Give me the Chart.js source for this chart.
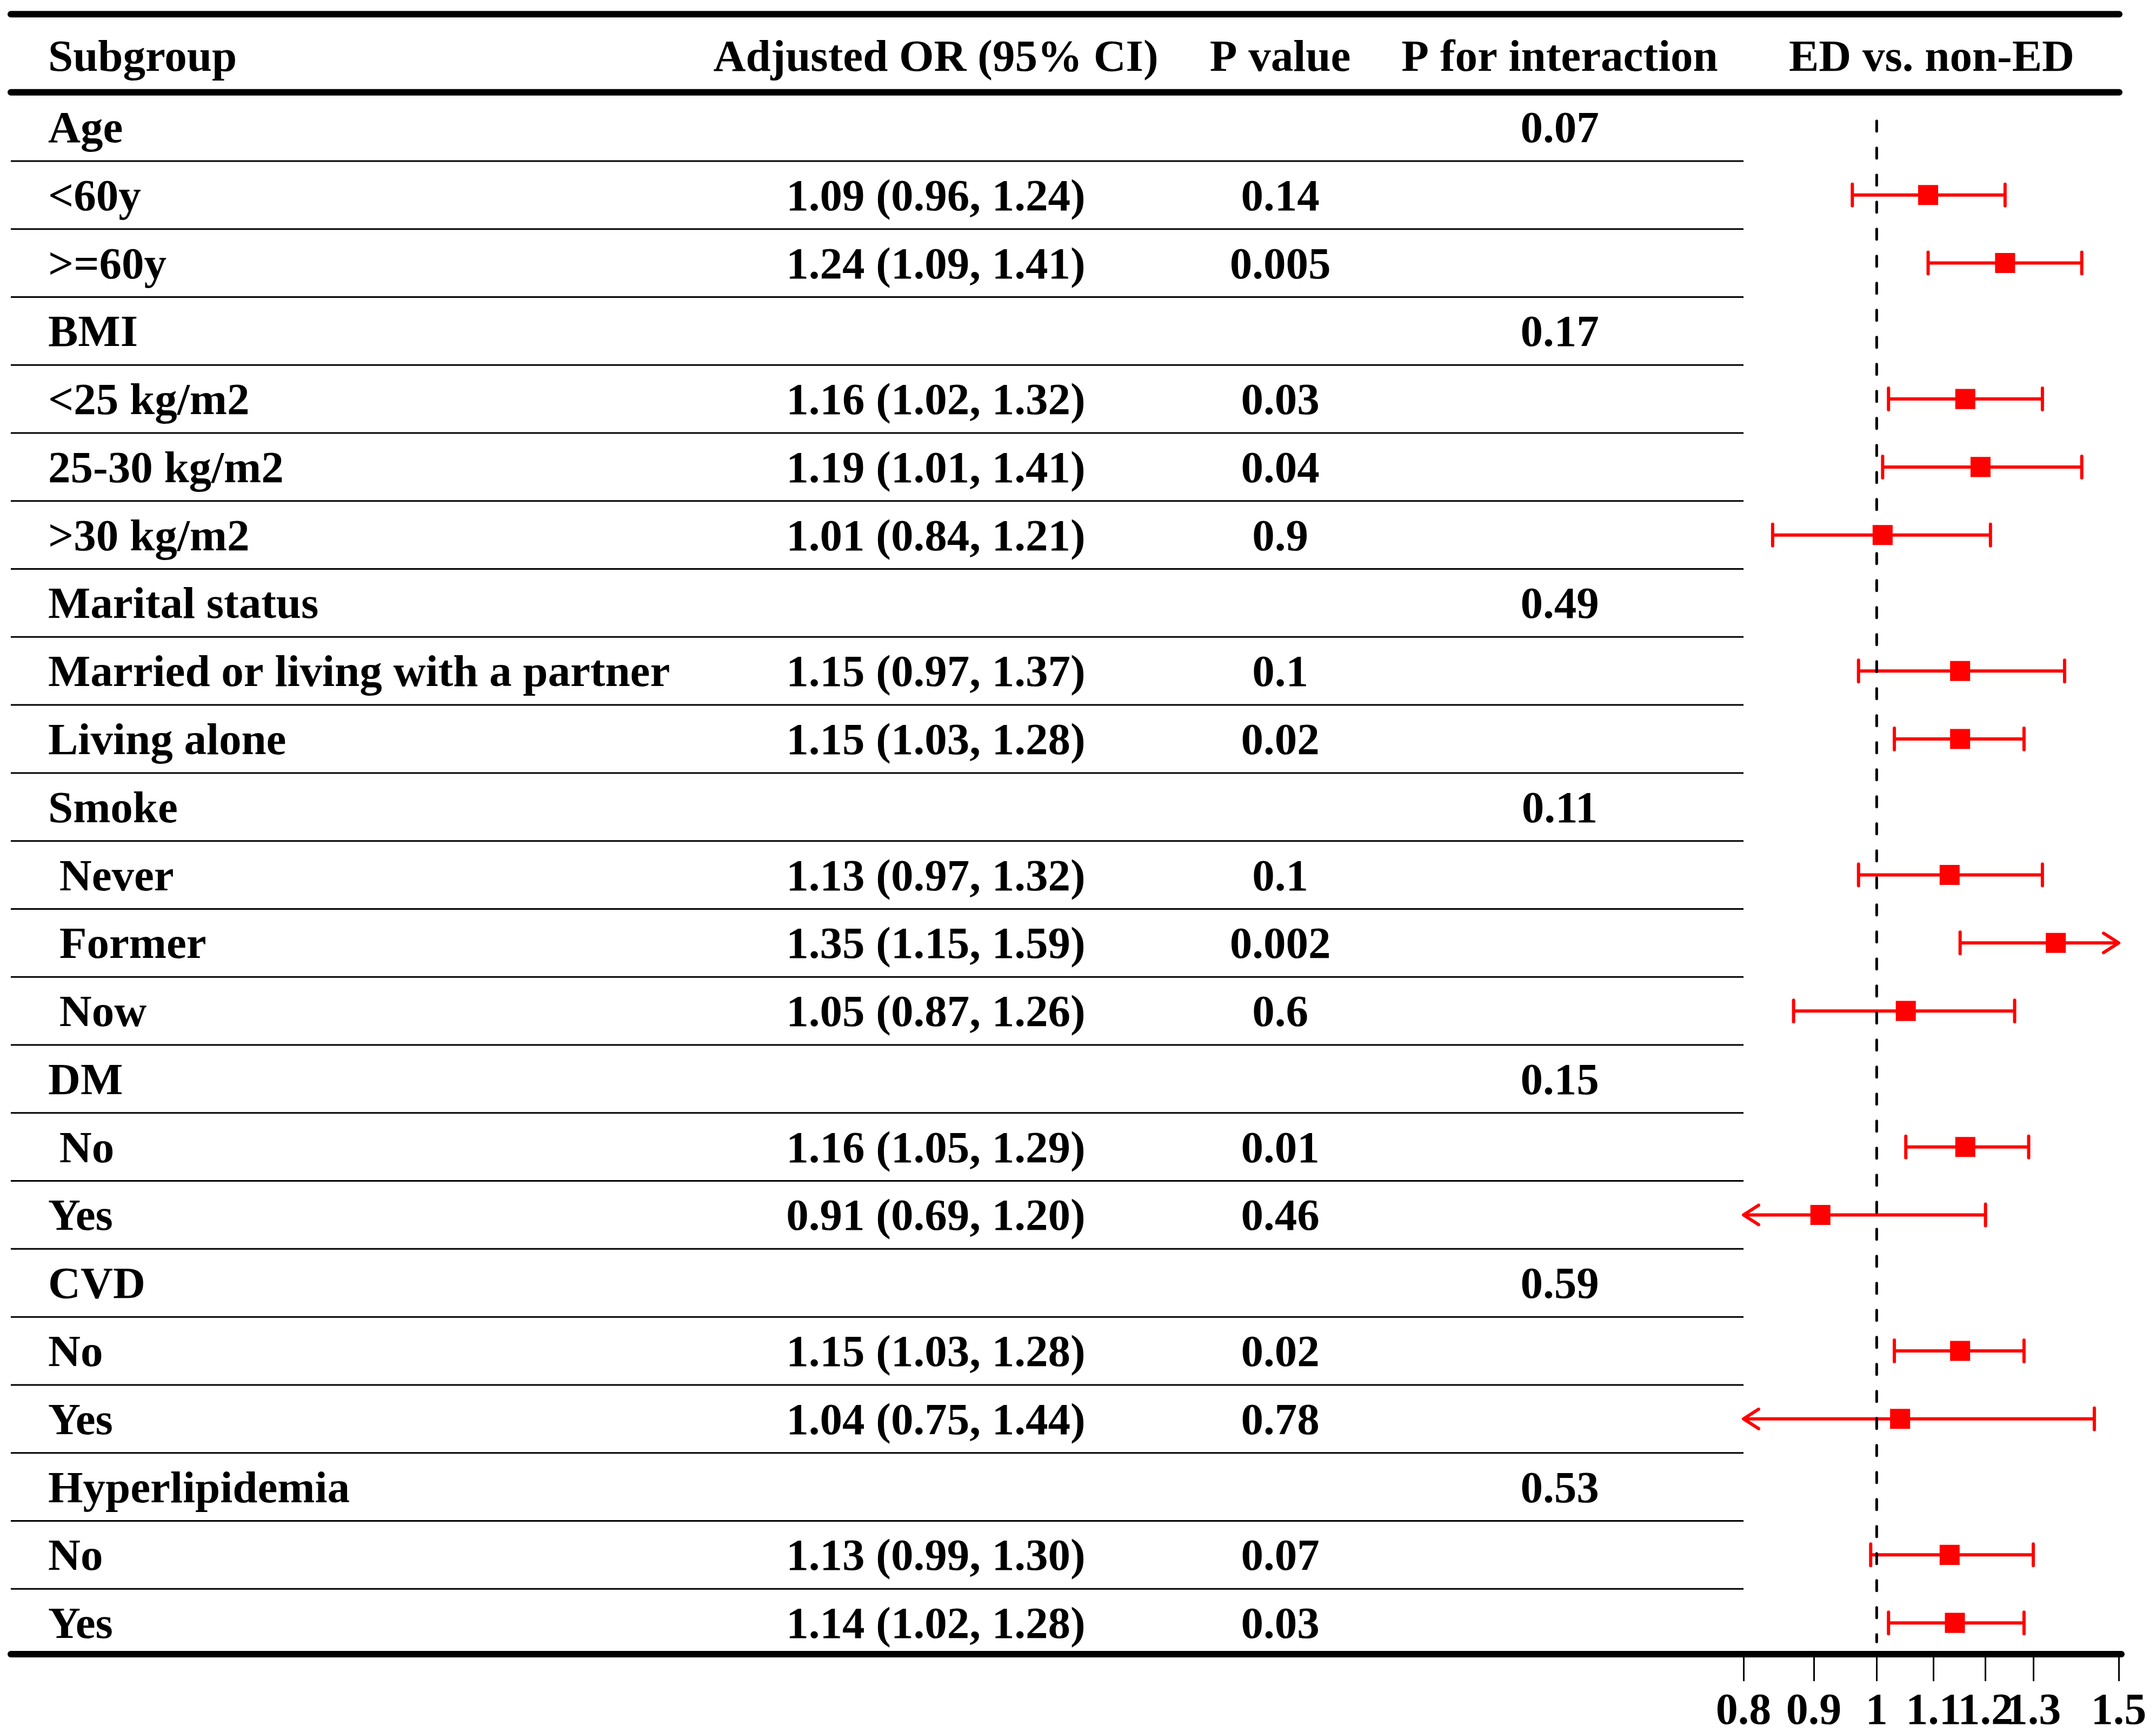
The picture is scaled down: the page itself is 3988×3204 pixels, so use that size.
<!DOCTYPE html>
<html>
<head>
<meta charset="utf-8">
<script src="https://cdn.jsdelivr.net/npm/chart.js@4.4.0/dist/chart.umd.min.js"></script>
<style>html,body{margin:0;padding:0;background:#fff}</style>
</head>
<body>
<canvas id="c" width="3988" height="3204" style="width:3988px;height:3204px;display:block"></canvas>
<script>
// ---------------- DATA ----------------
const subgroups = ["Age","<60y",">=60y","BMI","<25 kg/m2","25-30 kg/m2",">30 kg/m2","Marital status","Married or living with a partner","Living alone","Smoke"," Never"," Former"," Now","DM"," No","Yes","CVD","No","Yes","Hyperlipidemia","No","Yes"];
const orValues = [null,1.09,1.24,null,1.16,1.19,1.01,null,1.15,1.15,null,1.13,1.35,1.05,null,1.16,0.91,null,1.15,1.04,null,1.13,1.14];
const ciLow    = [null,0.96,1.09,null,1.02,1.01,0.84,null,0.97,1.03,null,0.97,1.15,0.87,null,1.05,0.69,null,1.03,0.75,null,0.99,1.02];
const ciHigh   = [null,1.24,1.41,null,1.32,1.41,1.21,null,1.37,1.28,null,1.32,1.59,1.26,null,1.29,1.20,null,1.28,1.44,null,1.30,1.28];
const pValues  = ["","0.14","0.005","","0.03","0.04","0.9","","0.1","0.02","","0.1","0.002","0.6","","0.01","0.46","","0.02","0.78","","0.07","0.03"];
const pInteraction = ["0.07","","","0.17","","","","0.49","","","0.11","","","","0.15","","","0.59","","","0.53","",""];
const headers = ["Subgroup","Adjusted OR (95% CI)","P value","P for interaction","ED vs. non-ED"];
const xTickValues = [0.8,0.9,1,1.1,1.2,1.3,1.5];
const xTickLabels = ["0.8","0.9","1","1.1","1.2","1.3","1.5"];
const xMin = 0.8, xMax = 1.5, refValue = 1;

// ---------------- STYLE ----------------
const RED = '#ff0000';
const FONT = 'bold 83px "Liberation Serif", "Times New Roman", serif';
const baselineOffset = 28;
const colX = { label: 89, or: 1731, p: 2368, pint: 2885, plot: 3573 };
const yRange = { min: -1.66, max: 22.46 };
const headerRow = -1.05, headerLine = -0.51, dashStart = -0.09, dashEnd = 22.28;
const tableLeft = 20, tableRight = 3920;

const points = [];
subgroups.forEach((s, i) => {
  if (orValues[i] !== null) points.push({ x: orValues[i], y: i, lo: ciLow[i], hi: ciHigh[i] });
});
const orText = orValues.map((v, i) => v === null ? "" :
  v.toFixed(2) + " (" + ciLow[i].toFixed(2) + ", " + ciHigh[i].toFixed(2) + ")");

function hline(ctx, x1, x2, y, w) {
  ctx.beginPath(); ctx.lineWidth = w; ctx.moveTo(x1, y); ctx.lineTo(x2, y); ctx.stroke();
}

const forestPlugin = {
  id: 'forest',
  beforeDatasetsDraw(chart) {
    const { ctx, chartArea, scales: { x, y } } = chart;
    ctx.save();
    // confidence intervals
    ctx.strokeStyle = RED;
    points.forEach(p => {
      const py = y.getPixelForValue(p.y);
      const loClip = p.lo < xMin, hiClip = p.hi > xMax;
      const x1 = x.getPixelForValue(loClip ? xMin : p.lo);
      const x2 = x.getPixelForValue(hiClip ? xMax : p.hi);
      ctx.lineCap = 'butt';
      hline(ctx, x1, x2, py, 6);
      ctx.lineCap = 'round';
      ctx.lineJoin = 'round';
      ctx.lineWidth = 6;
      [[x1, loClip, -1], [x2, hiClip, 1]].forEach(([px, clip, dir]) => {
        ctx.beginPath();
        if (clip) {
          ctx.moveTo(px - dir * 28, py - 18);
          ctx.lineTo(px, py);
          ctx.lineTo(px - dir * 28, py + 18);
        } else {
          ctx.moveTo(px, py - 20);
          ctx.lineTo(px, py + 20);
        }
        ctx.stroke();
      });
    });
    // reference line
    const rx = x.getPixelForValue(refValue);
    ctx.strokeStyle = '#000';
    ctx.lineWidth = 5;
    ctx.lineCap = 'round';
    ctx.setLineDash([19, 31]);
    ctx.beginPath();
    ctx.moveTo(rx, y.getPixelForValue(dashStart));
    ctx.lineTo(rx, y.getPixelForValue(dashEnd));
    ctx.stroke();
    ctx.restore();
  },
  afterDraw(chart) {
    const { ctx, chartArea, scales: { x, y } } = chart;
    ctx.save();
    ctx.strokeStyle = '#000';
    ctx.lineCap = 'butt';
    // thin row separators
    for (let i = 0; i < subgroups.length - 1; i++) {
      hline(ctx, tableLeft, chartArea.left, y.getPixelForValue(i + 0.5), 3);
    }
    // thick rules
    ctx.lineCap = 'round';
    hline(ctx, tableLeft, tableRight, chartArea.top, 12);
    hline(ctx, tableLeft, tableRight, y.getPixelForValue(headerLine), 12);
    hline(ctx, tableLeft, tableRight + 4, chartArea.bottom, 12);
    // text
    ctx.fillStyle = '#000';
    ctx.font = FONT;
    ctx.textBaseline = 'alphabetic';
    const hy = y.getPixelForValue(headerRow) + baselineOffset;
    ctx.textAlign = 'left';
    ctx.fillText(headers[0], colX.label, hy);
    ctx.textAlign = 'center';
    ctx.fillText(headers[1], colX.or, hy);
    ctx.fillText(headers[2], colX.p, hy);
    ctx.fillText(headers[3], colX.pint, hy);
    ctx.fillText(headers[4], colX.plot, hy);
    subgroups.forEach((s, i) => {
      const py = y.getPixelForValue(i) + baselineOffset;
      ctx.textAlign = 'left';
      ctx.fillText(s, colX.label, py);
      ctx.textAlign = 'center';
      if (orText[i]) ctx.fillText(orText[i], colX.or, py);
      if (pValues[i]) ctx.fillText(pValues[i], colX.p, py);
      if (pInteraction[i]) ctx.fillText(pInteraction[i], colX.pint, py);
    });
    ctx.restore();
  }
};

new Chart(document.getElementById('c'), {
  type: 'scatter',
  data: {
    datasets: [{
      data: points,
      backgroundColor: RED,
      borderColor: RED,
      borderWidth: 0,
      pointStyle: 'rect',
      pointRadius: 26.2,
      pointHoverRadius: 26.2
    }]
  },
  options: {
    responsive: false,
    devicePixelRatio: 1,
    animation: false,
    events: [],
    layout: { padding: { left: 3225, right: 69, top: 25, bottom: 0 } },
    plugins: { legend: { display: false }, tooltip: { enabled: false } },
    scales: {
      x: {
        type: 'logarithmic',
        min: xMin, max: xMax,
        position: 'bottom',
        afterBuildTicks(scale) { scale.ticks = xTickValues.map(v => ({ value: v })); },
        afterFit(scale) { scale.height = 144; },
        ticks: {
          autoSkip: false, maxRotation: 0, minRotation: 0, padding: 9,
          color: '#000',
          font: { family: '"Liberation Serif", "Times New Roman", serif', weight: 'bold', size: 82 },
          callback: (v, i) => xTickLabels[i]
        },
        grid: { drawOnChartArea: false, drawTicks: true, tickLength: 50, color: '#000', lineWidth: 3 },
        border: { display: false }
      },
      y: {
        type: 'linear', reverse: true, min: yRange.min, max: yRange.max, display: false
      }
    }
  },
  plugins: [forestPlugin]
});
</script>
</body>
</html>
